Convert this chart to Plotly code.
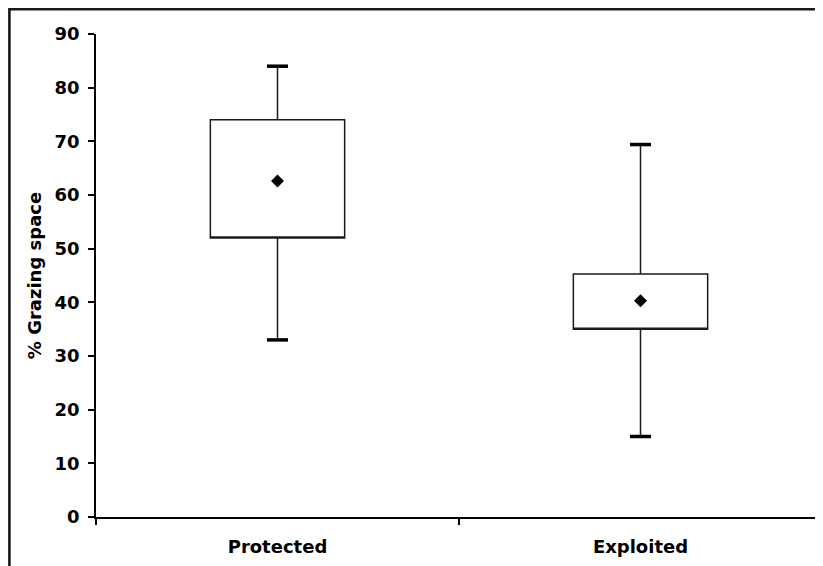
import plotly.graph_objects as go

categories = ["Protected", "Exploited"]
q1 = [52.0, 35.0]
q3 = [74.0, 45.3]
lower = [33.0, 15.0]
upper = [84.0, 69.4]
means = [62.6, 40.3]
y_ticks = [0, 10, 20, 30, 40, 50, 60, 70, 80, 90]

fig = go.Figure()

fig.add_trace(go.Box(
    x=categories,
    q1=q1, median=q1, q3=q3,
    lowerfence=lower, upperfence=upper,
    width=0.37,
    whiskerwidth=0.11,
    fillcolor="white",
    line=dict(color="#1a1a1a", width=1.5),
    boxpoints=False,
    hoverinfo="skip",
    showlegend=False,
))

# thick whisker caps
fig.add_trace(go.Scatter(
    x=categories + categories,
    y=lower + upper,
    mode="markers",
    marker=dict(symbol="line-ew", size=15, line=dict(color="black", width=3.5)),
    showlegend=False, hoverinfo="skip",
))

# mean diamonds
fig.add_trace(go.Scatter(
    x=categories, y=means, mode="markers",
    marker=dict(symbol="diamond", size=10, color="black"),
    showlegend=False, hoverinfo="skip",
))

font_bold = dict(family="DejaVu Sans", size=18, color="black", weight="bold")

W_PLOT = 726
H_PLOT = 483
fig.update_layout(
    width=815, height=558,
    margin=dict(l=88, r=1, t=26, b=49),
    paper_bgcolor="white", plot_bgcolor="white",
    font=dict(family="DejaVu Sans", color="black"),
    xaxis=dict(
        type="category", range=[-0.5, 1.5],
        showline=True, linecolor="black", linewidth=1.5,
        ticks="outside", tickson="boundaries", ticklen=6, tickcolor="black", tickwidth=1.5,
        showgrid=False, zeroline=False,
        tickfont=font_bold, ticklabelstandoff=13,
    ),
    yaxis=dict(
        range=[0, 90], tickvals=y_ticks,
        showline=True, linecolor="black", linewidth=1.5,
        ticks="outside", ticklen=6, tickcolor="black", tickwidth=1.5,
        showgrid=False, zeroline=False,
        tickfont=font_bold, ticklabelstandoff=5,
        title=dict(text="% Grazing space", font=font_bold, standoff=8),
    ),
    shapes=[dict(
        type="rect", xref="paper", yref="paper",
        x0=(1.4 - 88) / W_PLOT, x1=1.2, y0=-0.3, y1=1 + (26 - 1.2) / H_PLOT,
        line=dict(color="#1a1a1a", width=2.6), fillcolor="rgba(0,0,0,0)",
        layer="above",
    )],
)

fig.write_html("out.html")
